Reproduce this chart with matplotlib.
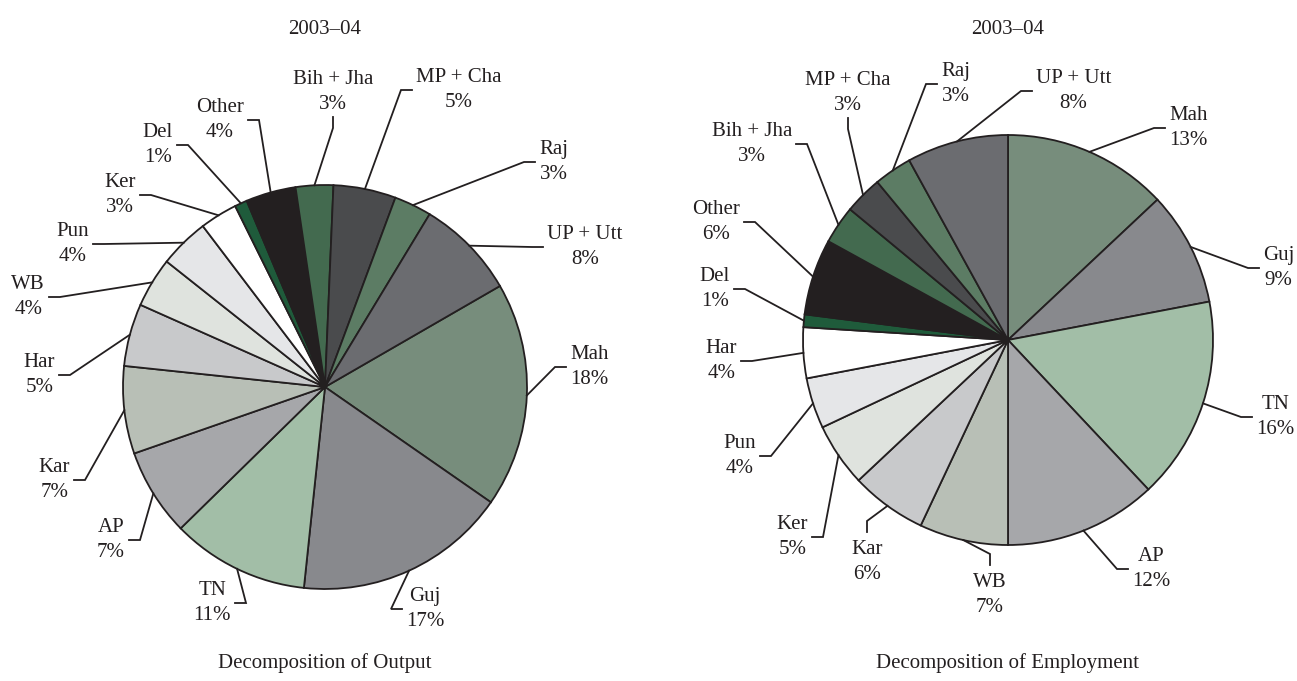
import numpy as np
import matplotlib.pyplot as plt

W, H = 1297, 681

# state shares, clockwise from the first wedge
states_out = ['Mah', 'Guj', 'TN', 'AP', 'Kar', 'Har', 'WB', 'Pun', 'Ker', 'Del',
              'Other', 'Bih + Jha', 'MP + Cha', 'Raj', 'UP + Utt']
share_out = [18, 17, 11, 7, 7, 5, 4, 4, 3, 1, 4, 3, 5, 3, 8]

states_emp = ['Mah', 'Guj', 'TN', 'AP', 'WB', 'Kar', 'Ker', 'Pun', 'Har', 'Del',
              'Other', 'Bih + Jha', 'MP + Cha', 'Raj', 'UP + Utt']
share_emp = [13, 9, 16, 12, 7, 6, 5, 4, 4, 1, 6, 3, 3, 3, 8]

year = '2003–04'
captions = ['Decomposition of Output', 'Decomposition of Employment']

colors = ['#778d7c', '#88898d', '#a2bea7', '#a6a7aa', '#b8bfb6', '#c8c9cb',
          '#dfe3de', '#e5e6e8', '#ffffff', '#1f5b3b', '#231f20', '#436a4f',
          '#4a4b4d', '#5c7c64', '#6b6c70']

INK = '#231f20'
FONT = 'Liberation Serif'

# leader line end (pixels from top-left) and which side of the text it meets
anchors_out = [
    (566, 367, 'l'), (402, 609, 'l'), (235, 603, 'r'), (129, 540, 'r'),
    (74, 480, 'r'), (59, 375, 'r'), (49, 297, 'r'), (93, 244, 'r'),
    (140, 195, 'r'), (177, 145, 'r'), (248, 120, 'r'), (333, 117, 'b'),
    (412, 90, 'l'), (535, 162, 'l'), (543, 247, 'l'),
]
anchors_emp = [
    (1165, 128, 'l'), (1259, 268, 'l'), (1252, 417, 'l'), (1128, 569, 'l'),
    (990, 565, 't'), (867, 532, 't'), (812, 537, 'r'), (760, 456, 'r'),
    (741, 361, 'r'), (734, 289, 'r'), (744, 222, 'r'), (796, 144, 'r'),
    (848, 118, 'b'), (937, 84, 'l'), (1032, 91, 'l'),
]


def draw_pie(ax, names, values, anchors, cx, cy, r, start, caption):
    cy = H - cy
    wedges, _ = ax.pie(values, colors=colors, startangle=start, counterclock=False,
                       center=(cx, cy), radius=r,
                       wedgeprops=dict(edgecolor=INK, linewidth=1.3))
    elbow = 11
    for w, name, val, (ex, ey, side) in zip(wedges, names, values, anchors):
        ey = H - ey
        mid = np.deg2rad((w.theta1 + w.theta2) / 2)
        sx, sy = cx + r * np.cos(mid), cy + r * np.sin(mid)
        if side == 'l':
            kx, ky = ex - elbow, ey
            tx, ty, ha, va = ex + 4, ey, 'left', 'center'
        elif side == 'r':
            kx, ky = ex + elbow, ey
            tx, ty, ha, va = ex - 4, ey, 'right', 'center'
        elif side == 'b':
            kx, ky = ex, ey - elbow
            tx, ty, ha, va = ex, ey + 3, 'center', 'bottom'
        else:
            kx, ky = ex, ey + elbow
            tx, ty, ha, va = ex, ey - 8, 'center', 'top'
        ax.plot([sx, kx, ex], [sy, ky, ey], color=INK, lw=1.3,
                solid_joinstyle='miter', zorder=1)
        ax.text(tx, ty, f'{name}\n{val}%', ha=ha, va=va, multialignment='center',
                fontsize=15, family=FONT, color=INK, linespacing=1.4)
    ax.text(cx, H - 29, year, ha='center', va='center', fontsize=15,
            family=FONT, color=INK)
    ax.text(cx, H - 663, caption, ha='center', va='center', fontsize=15,
            family=FONT, color=INK)


fig = plt.figure(figsize=(W / 100, H / 100), dpi=100)
ax = fig.add_axes([0, 0, 1, 1])

draw_pie(ax, states_out, share_out, anchors_out, 325, 387, 202, 30, captions[0])
draw_pie(ax, states_emp, share_emp, anchors_emp, 1008, 340, 205, 90, captions[1])

ax.set_xlim(0, W)
ax.set_ylim(0, H)
ax.set_aspect('equal')
ax.axis('off')

fig.savefig('out.png', dpi=100, facecolor='white')
